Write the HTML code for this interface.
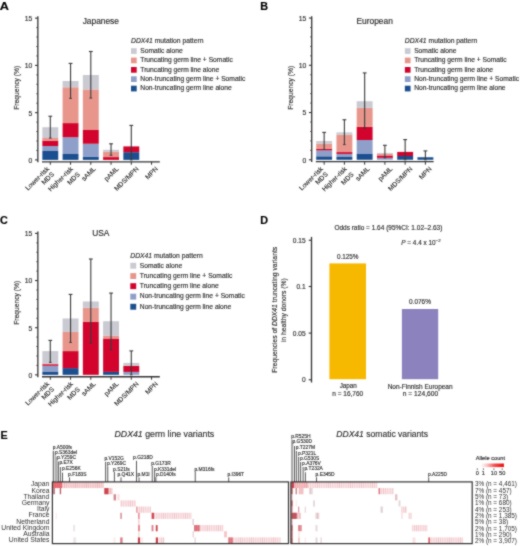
<!DOCTYPE html>
<html><head><meta charset="utf-8"><style>
html,body{margin:0;padding:0;background:#fff;overflow:hidden;}
svg{display:block;}
text{font-family:"Liberation Sans", sans-serif;stroke:currentColor;stroke-width:0.15px;paint-order:stroke;}
</style></head><body>
<svg width="520" height="546" viewBox="0 0 520 546" font-family='"Liberation Sans", sans-serif' fill="#2e2e2e" color="#2e2e2e">
<defs><filter id="fb" filterUnits="userSpaceOnUse" x="0" y="0" width="520" height="546" color-interpolation-filters="sRGB"><feConvolveMatrix order="3" kernelMatrix="1 2 1 2 12 2 1 2 1" divisor="24" edgeMode="duplicate"/></filter></defs>
<rect width="520" height="546" fill="#fff"/>
<g filter="url(#fb)">
<line x1="37.85" y1="16.25" x2="37.85" y2="162.20" stroke="#333333" stroke-width="1.3"/>
<line x1="35.05" y1="159.90" x2="37.85" y2="159.90" stroke="#333333" stroke-width="1.1"/>
<line x1="36.45" y1="150.45" x2="37.85" y2="150.45" stroke="#333333" stroke-width="1.0"/>
<line x1="36.45" y1="141.00" x2="37.85" y2="141.00" stroke="#333333" stroke-width="1.0"/>
<line x1="36.45" y1="131.55" x2="37.85" y2="131.55" stroke="#333333" stroke-width="1.0"/>
<line x1="36.45" y1="122.10" x2="37.85" y2="122.10" stroke="#333333" stroke-width="1.0"/>
<line x1="35.05" y1="112.65" x2="37.85" y2="112.65" stroke="#333333" stroke-width="1.1"/>
<line x1="36.45" y1="103.20" x2="37.85" y2="103.20" stroke="#333333" stroke-width="1.0"/>
<line x1="36.45" y1="93.75" x2="37.85" y2="93.75" stroke="#333333" stroke-width="1.0"/>
<line x1="36.45" y1="84.30" x2="37.85" y2="84.30" stroke="#333333" stroke-width="1.0"/>
<line x1="36.45" y1="74.85" x2="37.85" y2="74.85" stroke="#333333" stroke-width="1.0"/>
<line x1="35.05" y1="65.40" x2="37.85" y2="65.40" stroke="#333333" stroke-width="1.1"/>
<line x1="36.45" y1="55.95" x2="37.85" y2="55.95" stroke="#333333" stroke-width="1.0"/>
<line x1="36.45" y1="46.50" x2="37.85" y2="46.50" stroke="#333333" stroke-width="1.0"/>
<line x1="36.45" y1="37.05" x2="37.85" y2="37.05" stroke="#333333" stroke-width="1.0"/>
<line x1="36.45" y1="27.60" x2="37.85" y2="27.60" stroke="#333333" stroke-width="1.0"/>
<line x1="35.05" y1="18.15" x2="37.85" y2="18.15" stroke="#333333" stroke-width="1.1"/>
<text x="32.40" y="162.80" font-size="6.8" text-anchor="end">0</text>
<text x="32.40" y="115.55" font-size="6.8" text-anchor="end">5</text>
<text x="32.40" y="68.30" font-size="6.8" text-anchor="end">10</text>
<text x="32.40" y="21.05" font-size="6.8" text-anchor="end">15</text>
<text x="0.00" y="0.00" font-size="7.3" text-anchor="middle" textLength="44" lengthAdjust="spacingAndGlyphs" transform="translate(19.30,87.75) rotate(-90)">Frequency (%)</text>
<line x1="42.00" y1="161.80" x2="159.80" y2="161.80" stroke="#333333" stroke-width="1.3"/>
<line x1="50.30" y1="161.80" x2="50.30" y2="164.80" stroke="#333333" stroke-width="1.0"/>
<line x1="70.55" y1="161.80" x2="70.55" y2="164.80" stroke="#333333" stroke-width="1.0"/>
<line x1="90.80" y1="161.80" x2="90.80" y2="164.80" stroke="#333333" stroke-width="1.0"/>
<line x1="111.05" y1="161.80" x2="111.05" y2="164.80" stroke="#333333" stroke-width="1.0"/>
<line x1="131.30" y1="161.80" x2="131.30" y2="164.80" stroke="#333333" stroke-width="1.0"/>
<line x1="151.55" y1="161.80" x2="151.55" y2="164.80" stroke="#333333" stroke-width="1.0"/>
<rect x="42.35" y="151.00" width="15.90" height="8.90" fill="#1b4f8f"/>
<rect x="42.35" y="146.00" width="15.90" height="5.00" fill="#8e9fc9"/>
<rect x="42.35" y="140.60" width="15.90" height="5.40" fill="#d2042d"/>
<rect x="42.35" y="138.00" width="15.90" height="2.60" fill="#e8968c"/>
<rect x="42.35" y="127.25" width="15.90" height="10.75" fill="#c9cad2"/>
<line x1="50.30" y1="116.25" x2="50.30" y2="138.10" stroke="#3a3a3a" stroke-width="1.1"/>
<line x1="48.40" y1="116.25" x2="52.20" y2="116.25" stroke="#3a3a3a" stroke-width="1.1"/>
<line x1="49.00" y1="138.10" x2="51.60" y2="138.10" stroke="#3a3a3a" stroke-width="1.0"/>
<rect x="62.60" y="154.00" width="15.90" height="5.90" fill="#1b4f8f"/>
<rect x="62.60" y="137.25" width="15.90" height="16.75" fill="#8e9fc9"/>
<rect x="62.60" y="123.10" width="15.90" height="14.15" fill="#d2042d"/>
<rect x="62.60" y="87.25" width="15.90" height="35.85" fill="#e8968c"/>
<rect x="62.60" y="81.00" width="15.90" height="6.25" fill="#c9cad2"/>
<line x1="70.55" y1="63.40" x2="70.55" y2="98.40" stroke="#3a3a3a" stroke-width="1.1"/>
<line x1="68.65" y1="63.40" x2="72.45" y2="63.40" stroke="#3a3a3a" stroke-width="1.1"/>
<line x1="69.25" y1="98.40" x2="71.85" y2="98.40" stroke="#3a3a3a" stroke-width="1.0"/>
<rect x="82.85" y="156.90" width="15.90" height="3.00" fill="#1b4f8f"/>
<rect x="82.85" y="143.75" width="15.90" height="13.15" fill="#8e9fc9"/>
<rect x="82.85" y="130.00" width="15.90" height="13.75" fill="#d2042d"/>
<rect x="82.85" y="89.40" width="15.90" height="40.60" fill="#e8968c"/>
<rect x="82.85" y="75.00" width="15.90" height="14.40" fill="#c9cad2"/>
<line x1="90.80" y1="51.50" x2="90.80" y2="98.10" stroke="#3a3a3a" stroke-width="1.1"/>
<line x1="88.90" y1="51.50" x2="92.70" y2="51.50" stroke="#3a3a3a" stroke-width="1.1"/>
<line x1="89.50" y1="98.10" x2="92.10" y2="98.10" stroke="#3a3a3a" stroke-width="1.0"/>
<rect x="103.10" y="157.10" width="15.90" height="2.80" fill="#d2042d"/>
<rect x="103.10" y="151.80" width="15.90" height="5.30" fill="#e8968c"/>
<rect x="103.10" y="149.80" width="15.90" height="2.00" fill="#c9cad2"/>
<line x1="111.05" y1="143.80" x2="111.05" y2="155.30" stroke="#3a3a3a" stroke-width="1.1"/>
<line x1="109.15" y1="143.80" x2="112.95" y2="143.80" stroke="#3a3a3a" stroke-width="1.1"/>
<line x1="109.75" y1="155.30" x2="112.35" y2="155.30" stroke="#3a3a3a" stroke-width="1.0"/>
<rect x="123.35" y="152.20" width="15.90" height="7.70" fill="#1b4f8f"/>
<rect x="123.35" y="146.40" width="15.90" height="5.80" fill="#d2042d"/>
<line x1="131.30" y1="125.40" x2="131.30" y2="159.90" stroke="#3a3a3a" stroke-width="1.1"/>
<line x1="129.40" y1="125.40" x2="133.20" y2="125.40" stroke="#3a3a3a" stroke-width="1.1"/>
<line x1="130.00" y1="159.90" x2="132.60" y2="159.90" stroke="#3a3a3a" stroke-width="1.0"/>
<text x="100.80" y="23.70" font-size="8.4" text-anchor="middle" fill="#262626">Japanese</text>
<text x="131.00" y="43.10" font-size="6.7" textLength="72.5" lengthAdjust="spacingAndGlyphs"><tspan font-style="italic">DDX41</tspan> mutation pattern</text>
<rect x="131.00" y="48.20" width="5.70" height="5.70" fill="#c9cad2"/>
<text x="140.30" y="52.70" font-size="6.7">Somatic alone</text>
<rect x="131.00" y="57.60" width="5.70" height="5.70" fill="#e8968c"/>
<text x="140.30" y="62.10" font-size="6.7">Truncating germ line + Somatic</text>
<rect x="131.00" y="67.00" width="5.70" height="5.70" fill="#d2042d"/>
<text x="140.30" y="71.50" font-size="6.7">Truncating germ line alone</text>
<rect x="131.00" y="76.30" width="5.70" height="5.70" fill="#8e9fc9"/>
<text x="140.30" y="80.80" font-size="6.7">Non-truncating germ line + Somatic</text>
<rect x="131.00" y="85.70" width="5.70" height="5.70" fill="#1b4f8f"/>
<text x="140.30" y="90.20" font-size="6.7">Non-truncating germ line alone</text>
<text x="0.00" y="0.00" font-size="6.6" text-anchor="end" transform="translate(49.50,169.30) rotate(-45)">Lower-risk</text>
<text x="0.00" y="0.00" font-size="6.6" text-anchor="end" transform="translate(54.50,174.70) rotate(-45)">MDS</text>
<text x="0.00" y="0.00" font-size="6.6" text-anchor="end" transform="translate(73.35,169.30) rotate(-45)">Higher-risk</text>
<text x="0.00" y="0.00" font-size="6.6" text-anchor="end" transform="translate(80.35,174.80) rotate(-45)">MDS</text>
<text x="0.00" y="0.00" font-size="6.6" text-anchor="end" transform="translate(96.20,169.30) rotate(-45)">sAML</text>
<text x="0.00" y="0.00" font-size="6.6" text-anchor="end" transform="translate(119.05,169.30) rotate(-45)">pAML</text>
<text x="0.00" y="0.00" font-size="6.6" text-anchor="end" transform="translate(139.00,169.30) rotate(-45)">MDS/MPN</text>
<text x="0.00" y="0.00" font-size="6.6" text-anchor="end" transform="translate(158.25,169.30) rotate(-45)">MPN</text>
<line x1="311.70" y1="16.15" x2="311.70" y2="162.10" stroke="#333333" stroke-width="1.3"/>
<line x1="308.90" y1="159.80" x2="311.70" y2="159.80" stroke="#333333" stroke-width="1.1"/>
<line x1="310.30" y1="150.35" x2="311.70" y2="150.35" stroke="#333333" stroke-width="1.0"/>
<line x1="310.30" y1="140.90" x2="311.70" y2="140.90" stroke="#333333" stroke-width="1.0"/>
<line x1="310.30" y1="131.45" x2="311.70" y2="131.45" stroke="#333333" stroke-width="1.0"/>
<line x1="310.30" y1="122.00" x2="311.70" y2="122.00" stroke="#333333" stroke-width="1.0"/>
<line x1="308.90" y1="112.55" x2="311.70" y2="112.55" stroke="#333333" stroke-width="1.1"/>
<line x1="310.30" y1="103.10" x2="311.70" y2="103.10" stroke="#333333" stroke-width="1.0"/>
<line x1="310.30" y1="93.65" x2="311.70" y2="93.65" stroke="#333333" stroke-width="1.0"/>
<line x1="310.30" y1="84.20" x2="311.70" y2="84.20" stroke="#333333" stroke-width="1.0"/>
<line x1="310.30" y1="74.75" x2="311.70" y2="74.75" stroke="#333333" stroke-width="1.0"/>
<line x1="308.90" y1="65.30" x2="311.70" y2="65.30" stroke="#333333" stroke-width="1.1"/>
<line x1="310.30" y1="55.85" x2="311.70" y2="55.85" stroke="#333333" stroke-width="1.0"/>
<line x1="310.30" y1="46.40" x2="311.70" y2="46.40" stroke="#333333" stroke-width="1.0"/>
<line x1="310.30" y1="36.95" x2="311.70" y2="36.95" stroke="#333333" stroke-width="1.0"/>
<line x1="310.30" y1="27.50" x2="311.70" y2="27.50" stroke="#333333" stroke-width="1.0"/>
<line x1="308.90" y1="18.05" x2="311.70" y2="18.05" stroke="#333333" stroke-width="1.1"/>
<text x="306.25" y="162.70" font-size="6.8" text-anchor="end">0</text>
<text x="306.25" y="115.45" font-size="6.8" text-anchor="end">5</text>
<text x="306.25" y="68.20" font-size="6.8" text-anchor="end">10</text>
<text x="306.25" y="20.95" font-size="6.8" text-anchor="end">15</text>
<text x="0.00" y="0.00" font-size="7.3" text-anchor="middle" textLength="44" lengthAdjust="spacingAndGlyphs" transform="translate(293.15,87.75) rotate(-90)">Frequency (%)</text>
<line x1="315.85" y1="161.70" x2="433.65" y2="161.70" stroke="#333333" stroke-width="1.3"/>
<line x1="324.15" y1="161.70" x2="324.15" y2="164.70" stroke="#333333" stroke-width="1.0"/>
<line x1="344.40" y1="161.70" x2="344.40" y2="164.70" stroke="#333333" stroke-width="1.0"/>
<line x1="364.65" y1="161.70" x2="364.65" y2="164.70" stroke="#333333" stroke-width="1.0"/>
<line x1="384.90" y1="161.70" x2="384.90" y2="164.70" stroke="#333333" stroke-width="1.0"/>
<line x1="405.15" y1="161.70" x2="405.15" y2="164.70" stroke="#333333" stroke-width="1.0"/>
<line x1="425.40" y1="161.70" x2="425.40" y2="164.70" stroke="#333333" stroke-width="1.0"/>
<rect x="316.20" y="156.30" width="15.90" height="3.50" fill="#1b4f8f"/>
<rect x="316.20" y="150.40" width="15.90" height="5.90" fill="#8e9fc9"/>
<rect x="316.20" y="148.70" width="15.90" height="1.70" fill="#d2042d"/>
<rect x="316.20" y="143.60" width="15.90" height="5.10" fill="#e8968c"/>
<rect x="316.20" y="141.10" width="15.90" height="2.50" fill="#c9cad2"/>
<line x1="324.15" y1="132.40" x2="324.15" y2="149.50" stroke="#3a3a3a" stroke-width="1.1"/>
<line x1="322.25" y1="132.40" x2="326.05" y2="132.40" stroke="#3a3a3a" stroke-width="1.1"/>
<line x1="322.85" y1="149.50" x2="325.45" y2="149.50" stroke="#3a3a3a" stroke-width="1.0"/>
<rect x="336.45" y="157.00" width="15.90" height="2.80" fill="#1b4f8f"/>
<rect x="336.45" y="153.90" width="15.90" height="3.10" fill="#8e9fc9"/>
<rect x="336.45" y="152.10" width="15.90" height="1.80" fill="#d2042d"/>
<rect x="336.45" y="134.70" width="15.90" height="17.40" fill="#e8968c"/>
<rect x="336.45" y="132.40" width="15.90" height="2.30" fill="#c9cad2"/>
<line x1="344.40" y1="119.75" x2="344.40" y2="144.60" stroke="#3a3a3a" stroke-width="1.1"/>
<line x1="342.50" y1="119.75" x2="346.30" y2="119.75" stroke="#3a3a3a" stroke-width="1.1"/>
<line x1="343.10" y1="144.60" x2="345.70" y2="144.60" stroke="#3a3a3a" stroke-width="1.0"/>
<rect x="356.70" y="153.50" width="15.90" height="6.30" fill="#1b4f8f"/>
<rect x="356.70" y="140.00" width="15.90" height="13.50" fill="#8e9fc9"/>
<rect x="356.70" y="126.90" width="15.90" height="13.10" fill="#d2042d"/>
<rect x="356.70" y="107.80" width="15.90" height="19.10" fill="#e8968c"/>
<rect x="356.70" y="101.25" width="15.90" height="6.55" fill="#c9cad2"/>
<line x1="364.65" y1="72.90" x2="364.65" y2="128.10" stroke="#3a3a3a" stroke-width="1.1"/>
<line x1="362.75" y1="72.90" x2="366.55" y2="72.90" stroke="#3a3a3a" stroke-width="1.1"/>
<line x1="363.35" y1="128.10" x2="365.95" y2="128.10" stroke="#3a3a3a" stroke-width="1.0"/>
<rect x="376.95" y="157.80" width="15.90" height="2.00" fill="#8e9fc9"/>
<rect x="376.95" y="155.50" width="15.90" height="2.30" fill="#d2042d"/>
<rect x="376.95" y="153.80" width="15.90" height="1.70" fill="#e8968c"/>
<rect x="376.95" y="152.90" width="15.90" height="0.90" fill="#c9cad2"/>
<line x1="384.90" y1="145.30" x2="384.90" y2="157.80" stroke="#3a3a3a" stroke-width="1.1"/>
<line x1="383.00" y1="145.30" x2="386.80" y2="145.30" stroke="#3a3a3a" stroke-width="1.1"/>
<line x1="383.60" y1="157.80" x2="386.20" y2="157.80" stroke="#3a3a3a" stroke-width="1.0"/>
<rect x="397.20" y="156.00" width="15.90" height="3.80" fill="#1b4f8f"/>
<rect x="397.20" y="151.90" width="15.90" height="4.10" fill="#d2042d"/>
<line x1="405.15" y1="139.60" x2="405.15" y2="159.80" stroke="#3a3a3a" stroke-width="1.1"/>
<line x1="403.25" y1="139.60" x2="407.05" y2="139.60" stroke="#3a3a3a" stroke-width="1.1"/>
<line x1="403.85" y1="159.80" x2="406.45" y2="159.80" stroke="#3a3a3a" stroke-width="1.0"/>
<rect x="417.45" y="157.25" width="15.90" height="2.55" fill="#1b4f8f"/>
<line x1="425.40" y1="150.90" x2="425.40" y2="159.80" stroke="#3a3a3a" stroke-width="1.1"/>
<line x1="423.50" y1="150.90" x2="427.30" y2="150.90" stroke="#3a3a3a" stroke-width="1.1"/>
<line x1="424.10" y1="159.80" x2="426.70" y2="159.80" stroke="#3a3a3a" stroke-width="1.0"/>
<text x="374.65" y="23.70" font-size="8.4" text-anchor="middle" fill="#262626">European</text>
<text x="404.85" y="43.10" font-size="6.7" textLength="72.5" lengthAdjust="spacingAndGlyphs"><tspan font-style="italic">DDX41</tspan> mutation pattern</text>
<rect x="404.85" y="48.20" width="5.70" height="5.70" fill="#c9cad2"/>
<text x="414.15" y="52.70" font-size="6.7">Somatic alone</text>
<rect x="404.85" y="57.60" width="5.70" height="5.70" fill="#e8968c"/>
<text x="414.15" y="62.10" font-size="6.7">Truncating germ line + Somatic</text>
<rect x="404.85" y="67.00" width="5.70" height="5.70" fill="#d2042d"/>
<text x="414.15" y="71.50" font-size="6.7">Truncating germ line alone</text>
<rect x="404.85" y="76.30" width="5.70" height="5.70" fill="#8e9fc9"/>
<text x="414.15" y="80.80" font-size="6.7">Non-truncating germ line + Somatic</text>
<rect x="404.85" y="85.70" width="5.70" height="5.70" fill="#1b4f8f"/>
<text x="414.15" y="90.20" font-size="6.7">Non-truncating germ line alone</text>
<text x="0.00" y="0.00" font-size="6.6" text-anchor="end" transform="translate(323.35,169.30) rotate(-45)">Lower-risk</text>
<text x="0.00" y="0.00" font-size="6.6" text-anchor="end" transform="translate(328.35,174.70) rotate(-45)">MDS</text>
<text x="0.00" y="0.00" font-size="6.6" text-anchor="end" transform="translate(347.20,169.30) rotate(-45)">Higher-risk</text>
<text x="0.00" y="0.00" font-size="6.6" text-anchor="end" transform="translate(354.20,174.80) rotate(-45)">MDS</text>
<text x="0.00" y="0.00" font-size="6.6" text-anchor="end" transform="translate(370.05,169.30) rotate(-45)">sAML</text>
<text x="0.00" y="0.00" font-size="6.6" text-anchor="end" transform="translate(392.90,169.30) rotate(-45)">pAML</text>
<text x="0.00" y="0.00" font-size="6.6" text-anchor="end" transform="translate(412.85,169.30) rotate(-45)">MDS/MPN</text>
<text x="0.00" y="0.00" font-size="6.6" text-anchor="end" transform="translate(432.10,169.30) rotate(-45)">MPN</text>
<line x1="37.85" y1="231.50" x2="37.85" y2="377.15" stroke="#333333" stroke-width="1.3"/>
<line x1="35.05" y1="374.85" x2="37.85" y2="374.85" stroke="#333333" stroke-width="1.1"/>
<line x1="36.45" y1="365.42" x2="37.85" y2="365.42" stroke="#333333" stroke-width="1.0"/>
<line x1="36.45" y1="355.99" x2="37.85" y2="355.99" stroke="#333333" stroke-width="1.0"/>
<line x1="36.45" y1="346.56" x2="37.85" y2="346.56" stroke="#333333" stroke-width="1.0"/>
<line x1="36.45" y1="337.13" x2="37.85" y2="337.13" stroke="#333333" stroke-width="1.0"/>
<line x1="35.05" y1="327.70" x2="37.85" y2="327.70" stroke="#333333" stroke-width="1.1"/>
<line x1="36.45" y1="318.27" x2="37.85" y2="318.27" stroke="#333333" stroke-width="1.0"/>
<line x1="36.45" y1="308.84" x2="37.85" y2="308.84" stroke="#333333" stroke-width="1.0"/>
<line x1="36.45" y1="299.41" x2="37.85" y2="299.41" stroke="#333333" stroke-width="1.0"/>
<line x1="36.45" y1="289.98" x2="37.85" y2="289.98" stroke="#333333" stroke-width="1.0"/>
<line x1="35.05" y1="280.55" x2="37.85" y2="280.55" stroke="#333333" stroke-width="1.1"/>
<line x1="36.45" y1="271.12" x2="37.85" y2="271.12" stroke="#333333" stroke-width="1.0"/>
<line x1="36.45" y1="261.69" x2="37.85" y2="261.69" stroke="#333333" stroke-width="1.0"/>
<line x1="36.45" y1="252.26" x2="37.85" y2="252.26" stroke="#333333" stroke-width="1.0"/>
<line x1="36.45" y1="242.83" x2="37.85" y2="242.83" stroke="#333333" stroke-width="1.0"/>
<line x1="35.05" y1="233.40" x2="37.85" y2="233.40" stroke="#333333" stroke-width="1.1"/>
<text x="32.40" y="377.75" font-size="6.8" text-anchor="end">0</text>
<text x="32.40" y="330.60" font-size="6.8" text-anchor="end">5</text>
<text x="32.40" y="283.45" font-size="6.8" text-anchor="end">10</text>
<text x="32.40" y="236.30" font-size="6.8" text-anchor="end">15</text>
<text x="0.00" y="0.00" font-size="7.3" text-anchor="middle" textLength="44" lengthAdjust="spacingAndGlyphs" transform="translate(19.30,302.75) rotate(-90)">Frequency (%)</text>
<line x1="42.00" y1="376.75" x2="159.80" y2="376.75" stroke="#333333" stroke-width="1.3"/>
<line x1="50.30" y1="376.75" x2="50.30" y2="379.75" stroke="#333333" stroke-width="1.0"/>
<line x1="70.55" y1="376.75" x2="70.55" y2="379.75" stroke="#333333" stroke-width="1.0"/>
<line x1="90.80" y1="376.75" x2="90.80" y2="379.75" stroke="#333333" stroke-width="1.0"/>
<line x1="111.05" y1="376.75" x2="111.05" y2="379.75" stroke="#333333" stroke-width="1.0"/>
<line x1="131.30" y1="376.75" x2="131.30" y2="379.75" stroke="#333333" stroke-width="1.0"/>
<line x1="151.55" y1="376.75" x2="151.55" y2="379.75" stroke="#333333" stroke-width="1.0"/>
<rect x="42.35" y="372.00" width="15.90" height="2.85" fill="#1b4f8f"/>
<rect x="42.35" y="365.75" width="15.90" height="6.25" fill="#8e9fc9"/>
<rect x="42.35" y="364.20" width="15.90" height="1.55" fill="#d2042d"/>
<rect x="42.35" y="363.60" width="15.90" height="0.60" fill="#e8968c"/>
<rect x="42.35" y="351.10" width="15.90" height="12.50" fill="#c9cad2"/>
<line x1="50.30" y1="340.40" x2="50.30" y2="362.40" stroke="#3a3a3a" stroke-width="1.1"/>
<line x1="48.40" y1="340.40" x2="52.20" y2="340.40" stroke="#3a3a3a" stroke-width="1.1"/>
<line x1="49.00" y1="362.40" x2="51.60" y2="362.40" stroke="#3a3a3a" stroke-width="1.0"/>
<rect x="62.60" y="368.10" width="15.90" height="6.75" fill="#1b4f8f"/>
<rect x="62.60" y="351.10" width="15.90" height="17.00" fill="#d2042d"/>
<rect x="62.60" y="331.90" width="15.90" height="19.20" fill="#e8968c"/>
<rect x="62.60" y="318.50" width="15.90" height="13.40" fill="#c9cad2"/>
<line x1="70.55" y1="294.40" x2="70.55" y2="342.40" stroke="#3a3a3a" stroke-width="1.1"/>
<line x1="68.65" y1="294.40" x2="72.45" y2="294.40" stroke="#3a3a3a" stroke-width="1.1"/>
<line x1="69.25" y1="342.40" x2="71.85" y2="342.40" stroke="#3a3a3a" stroke-width="1.0"/>
<rect x="82.85" y="321.90" width="15.90" height="52.95" fill="#d2042d"/>
<rect x="82.85" y="307.75" width="15.90" height="14.15" fill="#e8968c"/>
<rect x="82.85" y="301.50" width="15.90" height="6.25" fill="#c9cad2"/>
<line x1="90.80" y1="259.00" x2="90.80" y2="343.30" stroke="#3a3a3a" stroke-width="1.1"/>
<line x1="88.90" y1="259.00" x2="92.70" y2="259.00" stroke="#3a3a3a" stroke-width="1.1"/>
<line x1="89.50" y1="343.30" x2="92.10" y2="343.30" stroke="#3a3a3a" stroke-width="1.0"/>
<rect x="103.10" y="371.90" width="15.90" height="2.95" fill="#1b4f8f"/>
<rect x="103.10" y="338.50" width="15.90" height="33.40" fill="#d2042d"/>
<rect x="103.10" y="335.60" width="15.90" height="2.90" fill="#e8968c"/>
<rect x="103.10" y="321.25" width="15.90" height="14.35" fill="#c9cad2"/>
<line x1="111.05" y1="293.10" x2="111.05" y2="349.75" stroke="#3a3a3a" stroke-width="1.1"/>
<line x1="109.15" y1="293.10" x2="112.95" y2="293.10" stroke="#3a3a3a" stroke-width="1.1"/>
<line x1="109.75" y1="349.75" x2="112.35" y2="349.75" stroke="#3a3a3a" stroke-width="1.0"/>
<rect x="123.35" y="371.90" width="15.90" height="2.95" fill="#8e9fc9"/>
<rect x="123.35" y="365.80" width="15.90" height="6.10" fill="#d2042d"/>
<rect x="123.35" y="362.90" width="15.90" height="2.90" fill="#c9cad2"/>
<line x1="131.30" y1="350.90" x2="131.30" y2="374.80" stroke="#3a3a3a" stroke-width="1.1"/>
<line x1="129.40" y1="350.90" x2="133.20" y2="350.90" stroke="#3a3a3a" stroke-width="1.1"/>
<line x1="130.00" y1="374.80" x2="132.60" y2="374.80" stroke="#3a3a3a" stroke-width="1.0"/>
<text x="100.80" y="236.40" font-size="8.4" text-anchor="middle" fill="#262626">USA</text>
<text x="130.30" y="257.60" font-size="6.7" textLength="72.5" lengthAdjust="spacingAndGlyphs"><tspan font-style="italic">DDX41</tspan> mutation pattern</text>
<rect x="130.30" y="262.80" width="5.90" height="5.90" fill="#c9cad2"/>
<text x="139.80" y="267.50" font-size="6.7">Somatic alone</text>
<rect x="130.30" y="273.10" width="5.90" height="5.90" fill="#e8968c"/>
<text x="139.80" y="277.80" font-size="6.7">Truncating germ line + Somatic</text>
<rect x="130.30" y="283.20" width="5.90" height="5.90" fill="#d2042d"/>
<text x="139.80" y="287.90" font-size="6.7">Truncating germ line alone</text>
<rect x="130.30" y="293.70" width="5.90" height="5.90" fill="#8e9fc9"/>
<text x="139.80" y="298.40" font-size="6.7">Non-truncating germ line + Somatic</text>
<rect x="130.30" y="303.80" width="5.90" height="5.90" fill="#1b4f8f"/>
<text x="139.80" y="308.50" font-size="6.7">Non-truncating germ line alone</text>
<text x="0.00" y="0.00" font-size="6.6" text-anchor="end" transform="translate(49.50,384.30) rotate(-45)">Lower-risk</text>
<text x="0.00" y="0.00" font-size="6.6" text-anchor="end" transform="translate(54.50,389.70) rotate(-45)">MDS</text>
<text x="0.00" y="0.00" font-size="6.6" text-anchor="end" transform="translate(73.35,384.30) rotate(-45)">Higher-risk</text>
<text x="0.00" y="0.00" font-size="6.6" text-anchor="end" transform="translate(80.35,389.80) rotate(-45)">MDS</text>
<text x="0.00" y="0.00" font-size="6.6" text-anchor="end" transform="translate(96.20,384.30) rotate(-45)">sAML</text>
<text x="0.00" y="0.00" font-size="6.6" text-anchor="end" transform="translate(119.05,384.30) rotate(-45)">pAML</text>
<text x="0.00" y="0.00" font-size="6.6" text-anchor="end" transform="translate(139.00,384.30) rotate(-45)">MDS/MPN</text>
<text x="0.00" y="0.00" font-size="6.6" text-anchor="end" transform="translate(158.25,384.30) rotate(-45)">MPN</text>
<line x1="311.50" y1="236.90" x2="311.50" y2="382.50" stroke="#333333" stroke-width="1.3"/>
<line x1="308.70" y1="240.25" x2="311.50" y2="240.25" stroke="#333333" stroke-width="1.1"/>
<text x="305.60" y="242.95" font-size="6.6" text-anchor="end">0.15</text>
<line x1="308.70" y1="286.50" x2="311.50" y2="286.50" stroke="#333333" stroke-width="1.1"/>
<text x="305.60" y="289.20" font-size="6.6" text-anchor="end">0.1</text>
<line x1="308.70" y1="333.10" x2="311.50" y2="333.10" stroke="#333333" stroke-width="1.1"/>
<text x="305.60" y="335.80" font-size="6.6" text-anchor="end">0.05</text>
<line x1="308.70" y1="379.75" x2="311.50" y2="379.75" stroke="#333333" stroke-width="1.1"/>
<text x="305.60" y="382.45" font-size="6.6" text-anchor="end">0</text>
<rect x="329.40" y="263.40" width="36.60" height="115.80" fill="#f7b800"/>
<rect x="401.90" y="309.00" width="36.30" height="70.20" fill="#8b82be"/>
<text x="347.70" y="259.00" font-size="6.4" text-anchor="middle" textLength="21.6" lengthAdjust="spacingAndGlyphs">0.125%</text>
<text x="420.00" y="303.80" font-size="6.4" text-anchor="middle" textLength="22" lengthAdjust="spacingAndGlyphs">0.076%</text>
<text x="348.30" y="388.20" font-size="6.4" text-anchor="middle" textLength="17.2" lengthAdjust="spacingAndGlyphs">Japan</text>
<text x="347.70" y="395.70" font-size="6.4" text-anchor="middle" textLength="30.9" lengthAdjust="spacingAndGlyphs">n = 16,760</text>
<text x="420.15" y="388.50" font-size="6.4" text-anchor="middle" textLength="64.9" lengthAdjust="spacingAndGlyphs">Non-Finnish European</text>
<text x="420.50" y="395.80" font-size="6.4" text-anchor="middle" textLength="35.4" lengthAdjust="spacingAndGlyphs">n = 124,600</text>
<text x="334.40" y="229.60" font-size="6.4" textLength="108" lengthAdjust="spacingAndGlyphs">Odds ratio = 1.64 (95%CI: 1.02&#8211;2.63)</text>
<text x="401.3" y="245.0" font-size="6.4"><tspan font-style="italic">P</tspan> = 4.4 x 10<tspan font-size="4.4" dy="-2.6">&#8722;2</tspan></text>
<text x="0" y="0" font-size="6.8" text-anchor="middle" textLength="126" lengthAdjust="spacingAndGlyphs" transform="translate(277.2,309.8) rotate(-90)">Frequencies of <tspan font-style="italic">DDX41</tspan> truncating variants</text>
<text x="0.00" y="0.00" font-size="6.8" text-anchor="middle" textLength="64" lengthAdjust="spacingAndGlyphs" transform="translate(286.4,310.2) rotate(-90)">in healthy donors (%)</text>
<text x="-0.20" y="9.60" font-size="10.8" fill="#000" textLength="9.2" lengthAdjust="spacingAndGlyphs" font-weight="bold">A</text>
<text x="260.20" y="9.70" font-size="10.8" fill="#000" font-weight="bold">B</text>
<text x="0.10" y="224.00" font-size="10.8" fill="#000" font-weight="bold">C</text>
<text x="260.30" y="224.10" font-size="10.8" fill="#000" font-weight="bold">D</text>
<text x="0.50" y="438.70" font-size="10.8" fill="#000" font-weight="bold">E</text>
<text x="114.5" y="436.7" font-size="8.6" textLength="99.75" lengthAdjust="spacingAndGlyphs"><tspan font-style="italic">DDX41</tspan> germ line variants</text>
<text x="336.3" y="436.7" font-size="8.6" textLength="91.75" lengthAdjust="spacingAndGlyphs"><tspan font-style="italic">DDX41</tspan> somatic variants</text>
<defs><pattern id="st" patternUnits="userSpaceOnUse" x="0.3" y="0" width="2.2" height="8"><rect x="0" y="0" width="0.7" height="8" fill="#d07f8a" opacity="0.3"/><rect x="1.1" y="0" width="0.5" height="8" fill="#ffffff" opacity="0.35"/></pattern></defs>
<rect x="52.90" y="481.90" width="9.40" height="6.17" fill="#e85862"/>
<rect x="52.90" y="481.90" width="9.40" height="6.17" fill="url(#st)"/>
<rect x="62.30" y="481.90" width="41.60" height="6.17" fill="#f8cfd1"/>
<rect x="62.30" y="481.90" width="41.60" height="6.17" fill="url(#st)"/>
<rect x="103.90" y="481.90" width="56.10" height="6.17" fill="#fefbfb"/>
<rect x="53.30" y="488.07" width="1.50" height="6.17" fill="#b65a62"/>
<rect x="59.80" y="488.07" width="1.30" height="6.17" fill="#b65a62"/>
<rect x="104.30" y="488.07" width="4.40" height="6.17" fill="#c8303a"/>
<rect x="104.30" y="488.07" width="4.40" height="6.17" fill="url(#st)"/>
<rect x="108.70" y="488.07" width="3.70" height="6.17" fill="#f7c8cb"/>
<rect x="108.70" y="488.07" width="3.70" height="6.17" fill="url(#st)"/>
<rect x="113.60" y="494.24" width="2.40" height="6.17" fill="#cf8a90"/>
<rect x="117.20" y="494.24" width="2.40" height="6.17" fill="#fbe1e4"/>
<rect x="120.20" y="500.41" width="15.70" height="6.17" fill="#fbe1e4"/>
<rect x="120.20" y="500.41" width="15.70" height="6.17" fill="url(#st)"/>
<rect x="136.20" y="506.58" width="1.50" height="6.17" fill="#e58d95"/>
<rect x="137.70" y="506.58" width="13.30" height="6.17" fill="#fbe1e4"/>
<rect x="137.70" y="506.58" width="13.30" height="6.17" fill="url(#st)"/>
<rect x="55.60" y="512.75" width="1.20" height="6.17" fill="#fdeaea"/>
<rect x="120.20" y="512.75" width="1.80" height="6.17" fill="#d9a0a6"/>
<rect x="138.30" y="512.75" width="1.20" height="6.17" fill="#e06a75"/>
<rect x="151.60" y="512.75" width="2.40" height="6.17" fill="#d24852"/>
<rect x="154.00" y="512.75" width="37.60" height="6.17" fill="#fbe1e4"/>
<rect x="154.00" y="512.75" width="37.60" height="6.17" fill="url(#st)"/>
<rect x="138.30" y="518.92" width="1.20" height="6.17" fill="#f2c4c8"/>
<rect x="192.40" y="518.92" width="1.60" height="6.17" fill="#e3d5d8"/>
<rect x="73.20" y="525.09" width="1.80" height="6.17" fill="#ebe3e4"/>
<rect x="138.30" y="525.09" width="1.40" height="6.17" fill="#d9606b"/>
<rect x="151.60" y="525.09" width="1.80" height="6.17" fill="#e07a84"/>
<rect x="155.80" y="525.09" width="1.80" height="6.17" fill="#c84550"/>
<rect x="194.00" y="525.09" width="5.90" height="6.17" fill="#dc6a73"/>
<rect x="194.00" y="525.09" width="5.90" height="6.17" fill="url(#st)"/>
<rect x="199.90" y="525.09" width="23.40" height="6.17" fill="#fbe1e4"/>
<rect x="199.90" y="525.09" width="23.40" height="6.17" fill="url(#st)"/>
<rect x="138.30" y="531.26" width="1.20" height="6.17" fill="#f0d4d6"/>
<rect x="192.60" y="531.26" width="1.40" height="6.17" fill="#e3d5d8"/>
<rect x="224.00" y="531.26" width="3.00" height="6.17" fill="#f7c8cb"/>
<rect x="73.20" y="537.43" width="3.00" height="6.17" fill="#efe6e7"/>
<rect x="113.60" y="537.43" width="1.80" height="6.17" fill="#fdeaea"/>
<rect x="120.20" y="537.43" width="2.40" height="6.17" fill="#d77f88"/>
<rect x="137.90" y="537.43" width="2.20" height="6.17" fill="#c53e48"/>
<rect x="140.70" y="537.43" width="2.40" height="6.17" fill="#fdeaea"/>
<rect x="155.80" y="537.43" width="2.20" height="6.17" fill="#c53e48"/>
<rect x="158.80" y="537.43" width="5.50" height="6.17" fill="#fbe1e4"/>
<rect x="158.80" y="537.43" width="5.50" height="6.17" fill="url(#st)"/>
<rect x="194.50" y="537.43" width="1.30" height="6.17" fill="#e3d5d8"/>
<rect x="228.20" y="537.43" width="4.80" height="6.17" fill="#e07078"/>
<rect x="228.20" y="537.43" width="4.80" height="6.17" fill="url(#st)"/>
<rect x="233.00" y="537.43" width="47.70" height="6.17" fill="#fbe1e4"/>
<rect x="233.00" y="537.43" width="47.70" height="6.17" fill="url(#st)"/>
<rect x="291.20" y="481.90" width="3.20" height="6.17" fill="#c8303a"/>
<rect x="291.20" y="481.90" width="3.20" height="6.17" fill="url(#st)"/>
<rect x="294.40" y="481.90" width="13.90" height="6.17" fill="#f6b6b9"/>
<rect x="294.40" y="481.90" width="13.90" height="6.17" fill="url(#st)"/>
<rect x="308.30" y="481.90" width="69.10" height="6.17" fill="#fbe1e3"/>
<rect x="308.30" y="481.90" width="69.10" height="6.17" fill="url(#st)"/>
<rect x="291.20" y="488.07" width="1.40" height="6.17" fill="#b8404a"/>
<rect x="295.60" y="488.07" width="1.30" height="6.17" fill="#c27b82"/>
<rect x="298.70" y="488.07" width="4.80" height="6.17" fill="#f5c0c3"/>
<rect x="298.70" y="488.07" width="4.80" height="6.17" fill="url(#st)"/>
<rect x="309.00" y="488.07" width="3.60" height="6.17" fill="#e7d3d6"/>
<rect x="309.00" y="488.07" width="3.60" height="6.17" fill="url(#st)"/>
<rect x="378.60" y="488.07" width="1.30" height="6.17" fill="#d35c66"/>
<rect x="379.90" y="488.07" width="13.90" height="6.17" fill="#fbe1e4"/>
<rect x="379.90" y="488.07" width="13.90" height="6.17" fill="url(#st)"/>
<rect x="291.20" y="494.24" width="1.40" height="6.17" fill="#f0c5c8"/>
<rect x="395.00" y="494.24" width="2.40" height="6.17" fill="#e5c3c7"/>
<rect x="291.20" y="500.41" width="1.40" height="6.17" fill="#b8404a"/>
<rect x="295.60" y="500.41" width="1.30" height="6.17" fill="#fdeaea"/>
<rect x="313.20" y="500.41" width="1.80" height="6.17" fill="#e3d5d8"/>
<rect x="398.60" y="500.41" width="1.80" height="6.17" fill="#e3d5d8"/>
<rect x="291.20" y="506.58" width="1.40" height="6.17" fill="#dd8890"/>
<rect x="298.00" y="506.58" width="1.30" height="6.17" fill="#d6a3a8"/>
<rect x="304.70" y="506.58" width="1.30" height="6.17" fill="#ecd6d8"/>
<rect x="380.50" y="506.58" width="2.50" height="6.17" fill="#e3d5d8"/>
<rect x="401.00" y="506.58" width="6.00" height="6.17" fill="#fbe1e4"/>
<rect x="401.00" y="506.58" width="6.00" height="6.17" fill="url(#st)"/>
<rect x="291.20" y="512.75" width="5.70" height="6.17" fill="#b8404a"/>
<rect x="291.20" y="512.75" width="5.70" height="6.17" fill="url(#st)"/>
<rect x="296.90" y="512.75" width="4.10" height="6.17" fill="#f6c6c8"/>
<rect x="296.90" y="512.75" width="4.10" height="6.17" fill="url(#st)"/>
<rect x="315.60" y="512.75" width="3.60" height="6.17" fill="#e6d3d6"/>
<rect x="315.60" y="512.75" width="3.60" height="6.17" fill="url(#st)"/>
<rect x="401.00" y="512.75" width="1.80" height="6.17" fill="#fbe1e4"/>
<rect x="408.30" y="512.75" width="3.60" height="6.17" fill="#fbe1e4"/>
<rect x="408.30" y="512.75" width="3.60" height="6.17" fill="url(#st)"/>
<rect x="291.20" y="518.92" width="1.40" height="6.17" fill="#eab4b8"/>
<rect x="291.20" y="525.09" width="1.40" height="6.17" fill="#b8404a"/>
<rect x="298.00" y="525.09" width="3.70" height="6.17" fill="#dd7f86"/>
<rect x="298.00" y="525.09" width="3.70" height="6.17" fill="url(#st)"/>
<rect x="315.60" y="525.09" width="1.80" height="6.17" fill="#e3d5d8"/>
<rect x="411.90" y="525.09" width="15.40" height="6.17" fill="#fbe1e4"/>
<rect x="411.90" y="525.09" width="15.40" height="6.17" fill="url(#st)"/>
<rect x="291.20" y="531.26" width="1.40" height="6.17" fill="#c8505a"/>
<rect x="298.00" y="531.26" width="2.00" height="6.17" fill="#fdeaea"/>
<rect x="291.20" y="537.43" width="1.40" height="6.17" fill="#b8404a"/>
<rect x="298.00" y="537.43" width="2.00" height="6.17" fill="#f4cfd1"/>
<rect x="304.70" y="537.43" width="1.30" height="6.17" fill="#fdeaea"/>
<rect x="315.60" y="537.43" width="1.80" height="6.17" fill="#e3d5d8"/>
<rect x="320.50" y="537.43" width="1.30" height="6.17" fill="#e3d5d8"/>
<rect x="412.50" y="537.43" width="3.00" height="6.17" fill="#fbe1e4"/>
<rect x="428.30" y="537.43" width="1.90" height="6.17" fill="#e0606a"/>
<rect x="430.20" y="537.43" width="32.60" height="6.17" fill="#fbe1e4"/>
<rect x="430.20" y="537.43" width="32.60" height="6.17" fill="url(#st)"/>
<rect x="52.40" y="481.90" width="236.10" height="61.70" fill="none" stroke="#333333" stroke-width="1.2"/>
<rect x="290.90" y="481.90" width="181.30" height="61.70" fill="none" stroke="#333333" stroke-width="1.2"/>
<text x="49.40" y="486.30" font-size="6.75" text-anchor="end" fill="#303030" style="stroke-width:0">Japan</text>
<text x="49.40" y="492.50" font-size="6.75" text-anchor="end" fill="#303030" style="stroke-width:0">Korea</text>
<text x="49.40" y="498.70" font-size="6.75" text-anchor="end" fill="#303030" style="stroke-width:0">Thailand</text>
<text x="49.40" y="504.90" font-size="6.75" text-anchor="end" fill="#303030" style="stroke-width:0">Germany</text>
<text x="49.40" y="511.10" font-size="6.75" text-anchor="end" fill="#303030" style="stroke-width:0">Italy</text>
<text x="49.40" y="517.30" font-size="6.75" text-anchor="end" fill="#303030" style="stroke-width:0">France</text>
<text x="49.40" y="523.50" font-size="6.75" text-anchor="end" fill="#303030" style="stroke-width:0">Netherland</text>
<text x="49.40" y="529.70" font-size="6.75" text-anchor="end" fill="#303030" style="stroke-width:0">United Kingdom</text>
<text x="49.40" y="535.90" font-size="6.75" text-anchor="end" fill="#303030" style="stroke-width:0">Australia</text>
<text x="49.40" y="542.10" font-size="6.75" text-anchor="end" fill="#303030" style="stroke-width:0">United States</text>
<text x="474.90" y="486.30" font-size="6.4" fill="#303030" style="stroke-width:0">3% (n = 4,461)</text>
<text x="474.90" y="492.63" font-size="6.4" fill="#303030" style="stroke-width:0">7% (n = 457)</text>
<text x="474.90" y="498.96" font-size="6.4" fill="#303030" style="stroke-width:0">5% (n = 73)</text>
<text x="474.90" y="505.29" font-size="6.4" fill="#303030" style="stroke-width:0">1% (n = 680)</text>
<text x="474.90" y="511.62" font-size="6.4" fill="#303030" style="stroke-width:0">4% (n = 253)</text>
<text x="474.90" y="517.95" font-size="6.4" fill="#303030" style="stroke-width:0">2% (n = 1,385)</text>
<text x="474.90" y="524.28" font-size="6.4" fill="#303030" style="stroke-width:0">5% (n = 38)</text>
<text x="474.90" y="530.61" font-size="6.4" fill="#303030" style="stroke-width:0">2% (n = 1,705)</text>
<text x="474.90" y="536.94" font-size="6.4" fill="#303030" style="stroke-width:0">1% (n = 290)</text>
<text x="474.90" y="543.27" font-size="6.4" fill="#303030" style="stroke-width:0">2% (n = 3,907)</text>
<text x="52.75" y="449.40" font-size="4.9">p.A500fs</text>
<text x="55.00" y="454.10" font-size="4.9">p.S363del</text>
<text x="56.90" y="459.40" font-size="4.9">p.Y259C</text>
<text x="59.40" y="464.40" font-size="4.9">p.E7X</text>
<text x="61.90" y="470.00" font-size="4.9">p.E256K</text>
<text x="68.10" y="476.00" font-size="4.9">p.F183S</text>
<text x="104.40" y="460.00" font-size="4.9">p.V152G</text>
<text x="106.90" y="465.00" font-size="4.9">p.Y269C</text>
<text x="113.10" y="470.60" font-size="4.9">p.S21fs</text>
<text x="117.50" y="476.25" font-size="4.9">p.Q41X</text>
<text x="133.10" y="459.40" font-size="4.9">p.G218D</text>
<text x="137.50" y="476.25" font-size="4.9">p.M1I</text>
<text x="151.25" y="465.00" font-size="4.9">p.G173R</text>
<text x="154.00" y="470.60" font-size="4.9">p.K331del</text>
<text x="156.00" y="476.25" font-size="4.9">p.D140fs</text>
<text x="194.40" y="470.60" font-size="4.9">p.M316fs</text>
<text x="227.50" y="476.30" font-size="4.9">p.I396T</text>
<line x1="53.30" y1="450.80" x2="53.30" y2="481.90" stroke="#222" stroke-width="0.8"/>
<line x1="55.20" y1="452.00" x2="55.20" y2="481.90" stroke="#666" stroke-width="0.7"/>
<line x1="56.30" y1="456.60" x2="56.30" y2="481.90" stroke="#777" stroke-width="0.6"/>
<line x1="57.10" y1="457.00" x2="57.10" y2="481.90" stroke="#777" stroke-width="0.6"/>
<line x1="58.40" y1="461.50" x2="58.40" y2="481.90" stroke="#222" stroke-width="0.75"/>
<line x1="60.40" y1="467.00" x2="60.40" y2="481.90" stroke="#222" stroke-width="0.75"/>
<line x1="62.50" y1="472.60" x2="62.50" y2="481.90" stroke="#222" stroke-width="0.75"/>
<line x1="69.50" y1="477.40" x2="69.50" y2="481.90" stroke="#222" stroke-width="0.75"/>
<line x1="105.60" y1="461.80" x2="105.60" y2="481.90" stroke="#222" stroke-width="0.75"/>
<line x1="107.75" y1="466.20" x2="107.75" y2="481.90" stroke="#222" stroke-width="0.75"/>
<line x1="114.40" y1="471.80" x2="114.40" y2="481.90" stroke="#222" stroke-width="0.75"/>
<line x1="121.00" y1="477.40" x2="121.00" y2="481.90" stroke="#222" stroke-width="0.75"/>
<line x1="136.50" y1="460.80" x2="136.50" y2="481.90" stroke="#222" stroke-width="0.75"/>
<line x1="139.00" y1="477.40" x2="139.00" y2="481.90" stroke="#222" stroke-width="0.75"/>
<line x1="152.25" y1="466.00" x2="152.25" y2="481.90" stroke="#222" stroke-width="0.75"/>
<line x1="154.60" y1="471.60" x2="154.60" y2="481.90" stroke="#222" stroke-width="0.75"/>
<line x1="155.90" y1="477.20" x2="155.90" y2="481.90" stroke="#222" stroke-width="0.75"/>
<line x1="195.25" y1="471.80" x2="195.25" y2="481.90" stroke="#222" stroke-width="0.75"/>
<line x1="228.70" y1="477.40" x2="228.70" y2="481.90" stroke="#222" stroke-width="0.75"/>
<text x="291.20" y="438.30" font-size="4.9">p.R525H</text>
<text x="292.50" y="443.40" font-size="4.9">p.G530D</text>
<text x="295.70" y="449.10" font-size="4.9">p.T227M</text>
<text x="298.00" y="454.60" font-size="4.9">p.P321L</text>
<text x="299.90" y="459.80" font-size="4.9">p.G530S</text>
<text x="302.10" y="465.10" font-size="4.9">p.A376V</text>
<text x="304.40" y="470.30" font-size="4.9">p.T232A</text>
<text x="315.60" y="476.25" font-size="4.9">p.E345D</text>
<text x="428.00" y="476.30" font-size="4.9">p.A225D</text>
<line x1="291.90" y1="439.40" x2="291.90" y2="481.90" stroke="#555" stroke-width="0.8"/>
<line x1="292.70" y1="441.50" x2="292.70" y2="481.90" stroke="#777" stroke-width="0.6"/>
<line x1="294.50" y1="446.00" x2="294.50" y2="481.90" stroke="#222" stroke-width="0.75"/>
<line x1="296.40" y1="451.00" x2="296.40" y2="481.90" stroke="#222" stroke-width="0.75"/>
<line x1="298.60" y1="456.80" x2="298.60" y2="481.90" stroke="#222" stroke-width="0.75"/>
<line x1="300.60" y1="462.00" x2="300.60" y2="481.90" stroke="#222" stroke-width="0.75"/>
<line x1="303.10" y1="467.00" x2="303.10" y2="481.90" stroke="#222" stroke-width="0.75"/>
<line x1="305.40" y1="472.30" x2="305.40" y2="481.90" stroke="#222" stroke-width="0.75"/>
<line x1="316.50" y1="477.30" x2="316.50" y2="481.90" stroke="#222" stroke-width="0.75"/>
<line x1="428.70" y1="477.30" x2="428.70" y2="481.90" stroke="#222" stroke-width="0.75"/>
<text x="475.80" y="459.70" font-size="5.6" textLength="29.2" lengthAdjust="spacingAndGlyphs">Allele count</text>
<defs><linearGradient id="ag" x1="0" x2="1" y1="0" y2="0"><stop offset="0" stop-color="#ffffff"/><stop offset="0.25" stop-color="#fbc9c9"/><stop offset="0.6" stop-color="#f35050"/><stop offset="1" stop-color="#ee0a0a"/></linearGradient></defs>
<rect x="480.80" y="463.50" width="23.10" height="3.60" fill="url(#ag)"/>
<line x1="477.30" y1="468.40" x2="477.30" y2="469.90" stroke="#333" stroke-width="0.8"/>
<text x="477.30" y="475.10" font-size="5.6" text-anchor="middle">0</text>
<line x1="483.40" y1="468.40" x2="483.40" y2="469.90" stroke="#333" stroke-width="0.8"/>
<text x="483.40" y="475.10" font-size="5.6" text-anchor="middle">1</text>
<line x1="493.90" y1="468.40" x2="493.90" y2="469.90" stroke="#333" stroke-width="0.8"/>
<text x="493.90" y="475.10" font-size="5.6" text-anchor="middle">10</text>
<line x1="502.20" y1="468.40" x2="502.20" y2="469.90" stroke="#333" stroke-width="0.8"/>
<text x="502.20" y="475.10" font-size="5.6" text-anchor="middle">50</text>
</g>
</svg>
</body></html>
